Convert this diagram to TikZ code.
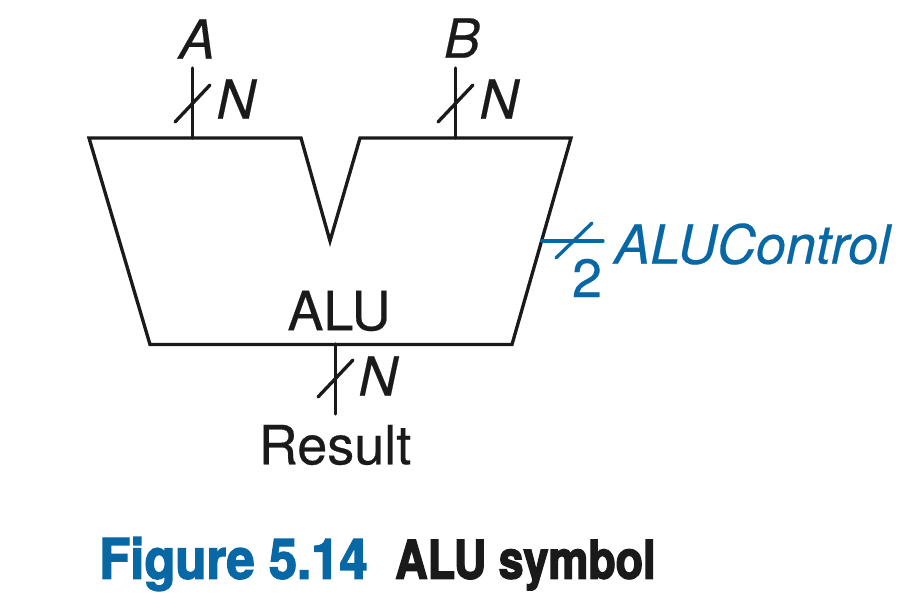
\documentclass[tikz,border=0pt]{standalone}
\usepackage{fontspec}
\setmainfont[FakeBold=0.35]{TeX Gyre Heros}
\newfontfamily\figfont[FakeStretch=0.907,FakeBold=2.4]{TeX Gyre Heros Bold}
\newfontfamily\symfont[FakeStretch=0.84,FakeBold=2.6]{TeX Gyre Heros Bold}
\definecolor{alublue}{HTML}{0868A6}
\definecolor{ink}{HTML}{1A1A1A}
\tikzset{
  wire/.style={draw=ink,line width=2.5pt,line cap=round},
  bluewire/.style={draw=alublue,line width=2.5pt,line cap=round},
  lbl/.style={inner sep=0pt,text=ink,font=\fontsize{40.5}{43}\selectfont},
  ilbl/.style={lbl,font=\fontsize{40.5}{43}\selectfont\itshape},
  blbl/.style={ilbl,text=alublue},
  cap1/.style={inner sep=0pt,font=\fontsize{42}{44}\figfont,text=alublue},
  cap2/.style={inner sep=0pt,font=\fontsize{40}{42}\symfont,text=ink}
}
\begin{document}
\begin{tikzpicture}[x=0.75pt,y=-0.75pt]
\useasboundingbox (0,0) rectangle (918,610);
\fill[white] (0,0) rectangle (918,610);
\coordinate (p1) at (89,138);
\coordinate (p2) at (301,138);
\coordinate (p3) at (330,241);
\coordinate (p4) at (360,138);
\coordinate (p5) at (571,138);
\coordinate (p6) at (512,344.5);
\coordinate (p7) at (150,344.5);
\draw[wire,line join=miter] (p1)--(p2)--(p3)--(p4)--(p5)--(p6)--(p7)--cycle;
% A bus
\coordinate (a0) at (192.5,68); \coordinate (a1) at (192.5,138);
\coordinate (as0) at (175,122); \coordinate (as1) at (210,85);
\draw[wire] (a0)--(a1); \draw[wire] (as0)--(as1);
% B bus
\coordinate (b0) at (455.5,68); \coordinate (b1) at (455.5,138);
\coordinate (bs0) at (438,122); \coordinate (bs1) at (473,85);
\draw[wire] (b0)--(b1); \draw[wire] (bs0)--(bs1);
% Result bus
\coordinate (r0) at (335.5,344); \coordinate (r1) at (335.5,414);
\coordinate (rs0) at (318,397); \coordinate (rs1) at (353,360);
\draw[wire] (r0)--(r1); \draw[wire] (rs0)--(rs1);
% Control
\coordinate (c0) at (542,241); \coordinate (c1) at (603,241);
\coordinate (cs0) at (556,258); \coordinate (cs1) at (592,223);
\draw[bluewire] (c0)--(c1); \draw[bluewire] (cs0)--(cs1);
% labels
\node[ilbl] (la) at (197,39) {A};
\node[ilbl] (lb) at (462,38) {B};
\node[ilbl] (na) at (236,99) {N};
\node[ilbl] (nb) at (499,99) {N};
\node[ilbl] (nr) at (378,376) {N};
\node[lbl] (alu) at (339,311) {ALU};
\node[lbl] (res) at (335,445) {Result};
\node[blbl,anchor=west] (ctl) at (614,244) {ALUControl};
\node[lbl,text=alublue] (two) at (587,278) {2};
\node[cap1,anchor=west] (f) at (99,564) {Figure 5.14};
\node[cap2,anchor=west] (t) at (395,565) {ALU symbol};
\end{tikzpicture}
\end{document}
